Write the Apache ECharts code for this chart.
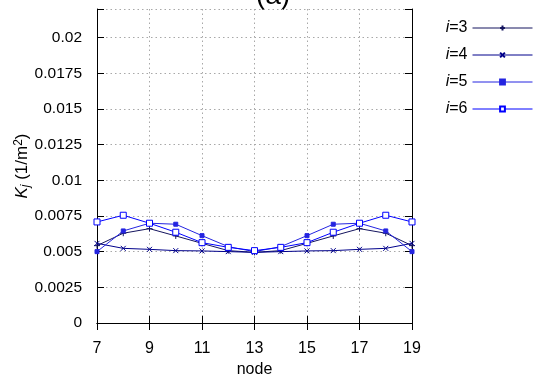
<!DOCTYPE html>
<html><head><meta charset="utf-8">
<script src="https://cdn.jsdelivr.net/npm/echarts@6/dist/echarts.min.js"></script>
<style>html,body{margin:0;padding:0;background:#fff}#c{width:539px;height:388px}</style>
</head><body><div id="c"></div>
<script>
const nodes = [7,8,9,10,11,12,13,14,15,16,17,18,19];
const i3 = [0.00542,0.00629,0.00661,0.00610,0.00558,0.00507,0.00495,0.00507,0.00558,0.00610,0.00661,0.00629,0.00542];
const i4 = [0.00558,0.00523,0.00516,0.00507,0.00505,0.00500,0.00495,0.00500,0.00505,0.00507,0.00516,0.00523,0.00558];
const i5 = [0.00500,0.00645,0.00699,0.00692,0.00612,0.00535,0.00500,0.00535,0.00612,0.00692,0.00699,0.00645,0.00500];
const i6 = [0.00708,0.00755,0.00699,0.00636,0.00563,0.00530,0.00507,0.00530,0.00563,0.00636,0.00699,0.00755,0.00708];
const seriesNames = ['i=3','i=4','i=5','i=6'];
const xTicks = [7,9,11,13,15,17,19];
const yTicks = [0,0.0025,0.005,0.0075,0.01,0.0125,0.015,0.0175,0.02];

const FONT = 'Liberation Sans';
const chart = echarts.init(document.getElementById('c'));
const plus = 'path://M0,5L10,5M5,0L5,10';
const cross = 'path://M0,0L10,10M0,10L10,0';
const sq = 'path://M0,0L10,0L10,10L0,10Z';
function mk(name, vals, color, symbol, size, filled) {
  return {
    name, type:'line', data: nodes.map((n,k)=>[n, vals[k]]),
    symbol, symbolSize: size, showSymbol:true,
    lineStyle:{color, width:1},
    itemStyle:{color: filled ? color : '#fff', borderColor: color, borderWidth:1},
    emphasis:{disabled:true}, animation:false
  };
}
const gridLine = {show:true, lineStyle:{color:'#a8a8a8', type:[1.5,3], width:1}};
chart.setOption({
  animation:false,
  grid:{left:97, right:127, top:9, bottom:65},
  legend:{
    orient:'vertical', right:1, top:14, align:'right',
    itemWidth:60, itemHeight:6, itemGap:9,
    lineStyle:{width:1},
    textStyle:{fontFamily:FONT, fontSize:16, color:'#000', lineHeight:18,
      rich:{it:{fontStyle:'italic', fontFamily:FONT, fontSize:16, lineHeight:18}, n:{fontFamily:FONT, fontSize:16, lineHeight:18}}},
    formatter: n => '{it|i}{n|' + n.slice(1) + '}',
    data: seriesNames
  },
  xAxis:[{
    type:'value', min:7, max:19, interval:2,
    name:'node', nameLocation:'middle', nameGap:35,
    nameTextStyle:{fontFamily:FONT, fontSize:16, color:'#000'},
    axisLine:{show:true, lineStyle:{color:'#000', width:1}},
    axisTick:{show:true, inside:true, length:7, lineStyle:{color:'#000'}},
    axisLabel:{fontFamily:FONT, fontSize:16, color:'#000', margin:18,
      formatter: v => xTicks.includes(v) ? String(v) : ''},
    splitLine: gridLine
  },{
    type:'value', min:7, max:19, interval:2, position:'top',
    axisLine:{show:true, lineStyle:{color:'#000', width:1}},
    axisTick:{show:true, inside:true, length:7, lineStyle:{color:'#000'}},
    axisLabel:{show:false}, splitLine:{show:false}
  }],
  yAxis:[{
    type:'value', min:0, max:0.022, interval:0.0025,
    axisLine:{show:true, lineStyle:{color:'#000', width:1}},
    axisTick:{show:true, inside:true, length:7, lineStyle:{color:'#000'}},
    axisLabel:{fontFamily:FONT, fontSize:15.5, color:'#000', margin:15,
      formatter: v => { const r = parseFloat(v.toFixed(4)); return yTicks.some(t=>Math.abs(t-r)<1e-9) ? String(r) : ''; }},
    splitLine: gridLine
  },{
    type:'value', min:0, max:0.022, interval:0.0025, position:'right',
    axisLine:{show:true, lineStyle:{color:'#000', width:1}},
    axisTick:{show:true, inside:true, length:7, lineStyle:{color:'#000'}},
    axisLabel:{show:false}, splitLine:{show:false}
  }],
  graphic:[
    {type:'text', x:22, y:166, rotation:Math.PI/2,
     style:{text:'{k|K}{j|j}{t| (1/m}{s|2}{t|)}', align:'center', verticalAlign:'middle',
       rich:{k:{fontFamily:FONT, fontStyle:'italic', fontSize:17, fill:'#000'},
             j:{fontFamily:FONT, fontStyle:'italic', fontSize:12, fill:'#000', verticalAlign:'bottom', padding:[7,0,0,0]},
             t:{fontFamily:FONT, fontSize:17, fill:'#000'},
             s:{fontFamily:FONT, fontSize:12, fill:'#000', verticalAlign:'top', padding:[0,0,7,0]}}}},
    {type:'text', x:273, y:10, style:{text:'(a)', fontFamily:FONT, fontSize:28, fill:'#000', align:'center', verticalAlign:'bottom'}}
  ],
  series:[
    mk('i=3', i3, '#14145e', plus, 6, true),
    mk('i=4', i4, '#00008b', cross, 5, true),
    mk('i=5', i5, '#2424e0', sq, 4, true),
    mk('i=6', i6, '#0000ff', sq, 6, false)
  ]
});
</script></body></html>
